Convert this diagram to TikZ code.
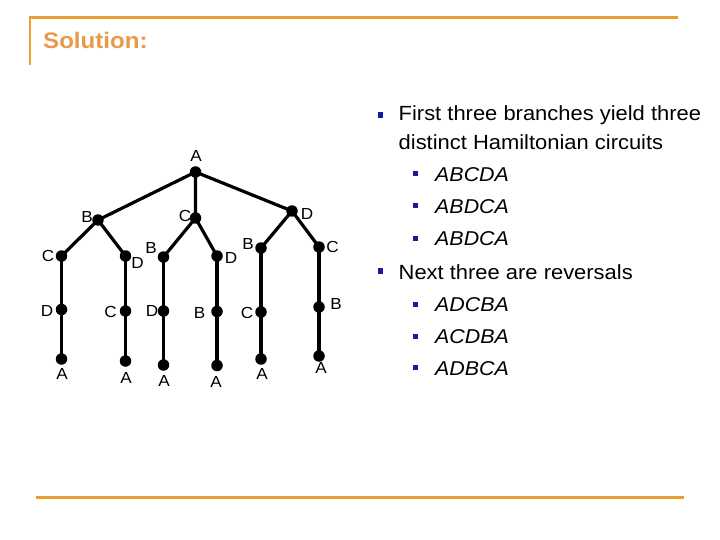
\documentclass[tikz,border=0pt]{standalone}
\usepackage{fontspec}
\setmainfont[FakeStretch=1.07]{Liberation Sans}
\definecolor{orng}{HTML}{E8A030}
\definecolor{titleor}{HTML}{E89A48}
\definecolor{bul}{HTML}{1A1AA0}
\begin{document}
\begin{tikzpicture}[x=1pt,y=-1pt,
  dot/.style={circle,fill=black,inner sep=0pt,minimum size=11.5pt},
  edge/.style={line width=3.2pt},
  lbl/.style={font=\fontsize{16}{18}\selectfont,inner sep=0pt},
  main/.style={anchor=base west,inner sep=0pt,font=\fontsize{20.5}{23}\selectfont},
  sub/.style={anchor=base west,inner sep=0pt,font=\fontsize{20}{23}\selectfont\itshape},
  bigbul/.style={fill=bul,minimum size=5.5pt,inner sep=0pt},
  smallbul/.style={fill=bul,minimum size=5pt,inner sep=0pt}]
\useasboundingbox (0,0) rectangle (720,540);
% frame lines
\draw[orng,line width=2.5pt] (30,65) -- (30,17.5) -- (678,17.5);
\draw[orng,line width=3pt] (36,497.5) -- (684,497.5);
\node[anchor=base west,inner sep=0pt,text=titleor,font=\fontsize{22.5}{25}\selectfont\bfseries] (title) at (43,49) {Solution:};
% tree nodes
\node[dot] (a) at (195.5,172) {};
\node[dot] (b1) at (98,220) {};
\node[dot] (c1) at (195.5,218) {};
\node[dot] (d1) at (292,211) {};
\node[dot] (c2) at (61.5,256) {};
\node[dot] (d2) at (125.5,256) {};
\node[dot] (b2) at (163.5,257) {};
\node[dot] (d3) at (217,256) {};
\node[dot] (b3) at (261,248) {};
\node[dot] (c3) at (319,247) {};
\node[dot] (d4) at (61.5,309.5) {};
\node[dot] (c4) at (125.5,311) {};
\node[dot] (d5) at (163.5,311) {};
\node[dot] (b4) at (217,311.5) {};
\node[dot] (c5) at (261,312) {};
\node[dot] (b5) at (319,307) {};
\node[dot] (a1) at (61.5,359) {};
\node[dot] (a2) at (125.5,361) {};
\node[dot] (a3) at (163.5,365) {};
\node[dot] (a4) at (217,365.5) {};
\node[dot] (a5) at (261,359) {};
\node[dot] (a6) at (319,356) {};
% edges
\draw[edge] (a.center) -- (b1.center) (a.center) -- (c1.center) (a.center) -- (d1.center);
\draw[edge] (b1.center) -- (c2.center) (b1.center) -- (d2.center);
\draw[edge] (c1.center) -- (b2.center) (c1.center) -- (d3.center);
\draw[edge] (d1.center) -- (b3.center) (d1.center) -- (c3.center);
\draw[edge] (c2.center) -- (d4.center) -- (a1.center);
\draw[edge] (d2.center) -- (c4.center) -- (a2.center);
\draw[edge] (b2.center) -- (d5.center) -- (a3.center);
\draw[edge] (d3.center) -- (b4.center) -- (a4.center);
\draw[edge] (b3.center) -- (c5.center) -- (a5.center);
\draw[edge] (c3.center) -- (b5.center) -- (a6.center);
% labels
\node[lbl] (la) at (196,156) {A};
\node[lbl] (lb1) at (87,217) {B};
\node[lbl] (lc1) at (185,215.5) {C};
\node[lbl] (ld1) at (307,214) {D};
\node[lbl] (lc2) at (48,256) {C};
\node[lbl] (ld2) at (137.5,263) {D};
\node[lbl] (lb2) at (151,248) {B};
\node[lbl] (ld3) at (231,257.5) {D};
\node[lbl] (lb3) at (248,244) {B};
\node[lbl] (lc3) at (332.5,247) {C};
\node[lbl] (ld4) at (47,311) {D};
\node[lbl] (lc4) at (110.5,312) {C};
\node[lbl] (ld5) at (152,311) {D};
\node[lbl] (lb4) at (199.5,312.5) {B};
\node[lbl] (lc5) at (247,312.5) {C};
\node[lbl] (lb5) at (336,304) {B};
\node[lbl] (la1) at (62,374) {A};
\node[lbl] (la2) at (126,378) {A};
\node[lbl] (la3) at (164,380.5) {A};
\node[lbl] (la4) at (216,382) {A};
\node[lbl] (la5) at (262,374) {A};
\node[lbl] (la6) at (321,368) {A};
% right text
\node[bigbul] (bu1) at (380.5,115) {};
\node[main] (t1) at (398.5,121) {First three branches yield three};
\node[main] (t2) at (398.5,150) {distinct Hamiltonian circuits};
\node[smallbul] (s1) at (415.5,174) {};
\node[sub] (u1) at (435,181.5) {ABCDA};
\node[smallbul] (s2) at (415.5,206) {};
\node[sub] (u2) at (435,213.5) {ABDCA};
\node[smallbul] (s3) at (415.5,238) {};
\node[sub] (u3) at (435,245.5) {ABDCA};
\node[bigbul] (bu2) at (380.5,271) {};
\node[main] (t3) at (398.5,279.5) {Next three are reversals};
\node[smallbul] (s4) at (415.5,304) {};
\node[sub] (u4) at (435,311.5) {ADCBA};
\node[smallbul] (s5) at (415.5,336) {};
\node[sub] (u5) at (435,343.5) {ACDBA};
\node[smallbul] (s6) at (415.5,367.5) {};
\node[sub] (u6) at (435,375) {ADBCA};
\end{tikzpicture}
\end{document}
